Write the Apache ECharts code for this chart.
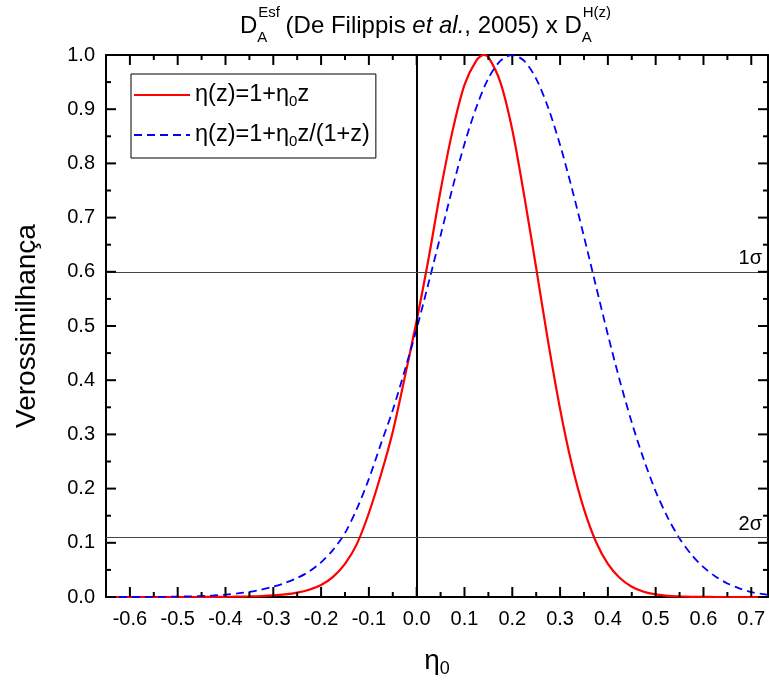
<!DOCTYPE html>
<html><head><meta charset="utf-8">
<script src="https://cdn.jsdelivr.net/npm/echarts@6/dist/echarts.min.js"></script>
<style>html,body{margin:0;padding:0;background:#fff}#c{width:769px;height:686px}</style>
</head><body><div id="c"></div>
<script>
// ---- data ----
const seriesNames = ['η(z)=1+η0z', 'η(z)=1+η0z/(1+z)'];
const etaLinear = [-0.65,-0.625,-0.6,-0.575,-0.55,-0.525,-0.5,-0.475,-0.45,-0.425,-0.4,-0.375,-0.35,-0.325,-0.3,-0.275,-0.25,-0.225,-0.2,-0.175,-0.15,-0.125,-0.1,-0.075,-0.05,-0.025,0,0.025,0.05,0.075,0.1,0.125,0.14,0.15,0.175,0.2,0.225,0.25,0.275,0.3,0.325,0.35,0.375,0.4,0.425,0.45,0.475,0.5,0.525,0.55,0.575,0.6,0.625,0.65,0.675,0.7,0.735];
const likeLinear = [0,0,0,0,0,0,0,0,0.0001,0.0002,0.0003,0.0006,0.001,0.0017,0.0029,0.0049,0.0082,0.0135,0.022,0.037,0.061,0.098,0.155,0.225,0.305,0.405,0.51,0.625,0.75,0.86,0.945,0.99,1.0,0.996,0.95,0.862,0.74,0.607,0.471,0.347,0.243,0.162,0.102,0.061,0.035,0.019,0.0097,0.0047,0.002,0.001,0.0004,0.0002,0,0,0,0,0];
const etaCPL = [-0.65,-0.625,-0.6,-0.575,-0.55,-0.525,-0.5,-0.475,-0.45,-0.425,-0.4,-0.375,-0.35,-0.325,-0.3,-0.275,-0.25,-0.225,-0.2,-0.175,-0.15,-0.125,-0.1,-0.075,-0.05,-0.025,0,0.025,0.05,0.075,0.1,0.125,0.15,0.175,0.2,0.225,0.25,0.275,0.3,0.325,0.35,0.375,0.4,0.425,0.45,0.475,0.5,0.525,0.55,0.575,0.6,0.625,0.65,0.675,0.7,0.735];
const likeCPL = [0,0,0,0.0001,0.0002,0.0004,0.0007,0.0011,0.0018,0.0028,0.0043,0.0065,0.0095,0.0135,0.019,0.026,0.035,0.047,0.064,0.087,0.118,0.163,0.218,0.282,0.345,0.418,0.495,0.58,0.667,0.755,0.836,0.904,0.957,0.989,1.0,0.989,0.956,0.903,0.834,0.753,0.665,0.574,0.484,0.399,0.322,0.254,0.195,0.147,0.108,0.078,0.055,0.038,0.025,0.016,0.009,0.004];
const xMajorTicks = [-0.6,-0.5,-0.4,-0.3,-0.2,-0.1,0,0.1,0.2,0.3,0.4,0.5,0.6,0.7];
const xMinorTicks = [-0.65,-0.55,-0.45,-0.35,-0.25,-0.15,-0.05,0.05,0.15,0.25,0.35,0.45,0.55,0.65];
const yMajorTicks = [0,0.1,0.2,0.3,0.4,0.5,0.6,0.7,0.8,0.9,1.0];
const yMinorTicks = [0.05,0.15,0.25,0.35,0.45,0.55,0.65,0.75,0.85,0.95];
const sigmaLevels = [0.6, 0.111];
const sigmaLabels = ['1σ', '2σ'];
const titleParts = ['D', 'Esf', 'A', ' (De Filippis ', 'et al.', ', 2005) x D', 'H(z)', 'A'];
const yName = 'Verossimilhança';
const X_MIN = -0.65, X_MAX = 0.735, Y_MIN = 0, Y_MAX = 1;

const FONT = '"Liberation Sans", Arial, sans-serif';
const chart = echarts.init(document.getElementById('c'), null, {renderer: 'canvas'});

function pair(xs, ys) { return xs.map((x, i) => [x, ys[i]]); }
function legendFmt(n) {
  const idx = n.indexOf('η0');
  return '{t|' + n.slice(0, idx) + 'η}{s|0}{t|' + n.slice(idx + 2) + '}';
}

// title layout via text measurement
const ctx = document.createElement('canvas').getContext('2d');
function tw(t, size, style) { ctx.font = (style || '') + ' ' + size + 'px ' + FONT; return ctx.measureText(t).width; }
const TS = 24, SS = 15;
const w0 = tw(titleParts[0], TS), w1 = Math.max(tw(titleParts[1], SS), tw(titleParts[2], SS));
const w3 = tw(titleParts[3], TS), w4 = tw(titleParts[4], TS, 'italic'), w5 = tw(titleParts[5], TS);
const w6 = Math.max(tw(titleParts[6], SS), tw(titleParts[7], SS));
const total = w0 + w1 + w3 + w4 + w5 + w6;
let tx = 425 - total / 2;
const TY = 26;
const g = [];
function txt(text, x, y, size, style) {
  return {type: 'text', x: x, y: y, style: {text: text, font: (style || '') + ' ' + size + 'px ' + FONT, fill: '#000', verticalAlign: 'middle', align: 'left'}, silent: true};
}
g.push(txt(titleParts[0], tx, TY, TS)); tx += w0;
g.push(txt(titleParts[1], tx + 1, TY - 13, SS));
g.push(txt(titleParts[2], tx, TY + 12, SS)); tx += w1;
g.push(txt(titleParts[3], tx, TY, TS)); tx += w3;
g.push(txt(titleParts[4], tx, TY, TS, 'italic')); tx += w4;
g.push(txt(titleParts[5], tx, TY, TS)); tx += w5;
g.push(txt(titleParts[6], tx + 1, TY - 13, SS));
g.push(txt(titleParts[7], tx, TY + 12, SS));

const lineBlack = {color: '#000', width: 2};

const option = {
  animation: false,
  backgroundColor: '#fff',
  textStyle: {fontFamily: FONT},
  grid: {left: 106, right: 1, top: 55, bottom: 89, containLabel: false},
  graphic: g,
  legend: {
    data: seriesNames,
    orient: 'vertical',
    left: 131, top: 74,
    itemWidth: 56, itemHeight: 14, itemGap: 14,
    padding: [9, 6, 9, 2],
    borderColor: '#000', borderWidth: 1, backgroundColor: '#fff',
    formatter: legendFmt,
    itemStyle: {color: 'rgba(0,0,0,0)', borderColor: 'rgba(0,0,0,0)', borderWidth: 0, opacity: 0},
    textStyle: {color: '#000', rich: {
      t: {fontSize: 23.5, fontFamily: FONT, color: '#000', lineHeight: 28},
      s: {fontSize: 15, fontFamily: FONT, color: '#000', verticalAlign: 'bottom', lineHeight: 10}
    }}
  },
  xAxis: [
    {type: 'value', min: X_MIN, max: X_MAX, position: 'bottom', splitLine: {show: false},
      axisLine: {show: true, onZero: false, lineStyle: lineBlack},
      axisTick: {show: false},
      axisLabel: {show: true, customValues: xMajorTicks, formatter: v => (+v).toFixed(1), fontSize: 20, color: '#000', margin: 12, fontFamily: FONT},
      name: '{t|η}{s|0}', nameLocation: 'middle', nameGap: 47,
      nameTextStyle: {rich: {t: {fontSize: 28, fontFamily: FONT, color: '#000', lineHeight: 34}, s: {fontSize: 18, fontFamily: FONT, color: '#000', verticalAlign: 'bottom', lineHeight: 12}}}
    },
    {type: 'value', min: X_MIN, max: X_MAX, position: 'top', splitLine: {show: false},
      axisLine: {show: true, onZero: false, lineStyle: lineBlack},
      axisTick: {show: false}, axisLabel: {show: false}}
  ],
  yAxis: [
    {type: 'value', min: Y_MIN, max: Y_MAX, interval: 0.1, position: 'left', splitLine: {show: false},
      axisLine: {show: true, onZero: false, lineStyle: lineBlack},
      axisTick: {show: false},
      axisLabel: {show: true, formatter: v => (+v).toFixed(1), fontSize: 20, color: '#000', margin: 11, fontFamily: FONT},
      name: yName, nameLocation: 'middle', nameGap: 65, nameRotate: 90,
      nameTextStyle: {fontSize: 28, color: '#000', fontFamily: FONT}
    },
    {type: 'value', min: Y_MIN, max: Y_MAX, position: 'right', splitLine: {show: false},
      axisLine: {show: true, onZero: false, lineStyle: lineBlack},
      axisTick: {show: false}, axisLabel: {show: false}}
  ],
  series: [
    {
      name: 'refs', type: 'line', data: [], silent: true, z: 1,
      markLine: {
        silent: true, symbol: ['none', 'none'], animation: false,
        data: [
          {xAxis: 0, lineStyle: {color: '#000', width: 2, type: 'solid'}, label: {show: false}},
          {yAxis: sigmaLevels[0], lineStyle: {color: '#444', width: 1, type: 'solid'},
            label: {show: true, position: 'insideEndTop', formatter: sigmaLabels[0], fontSize: 20, color: '#000', fontFamily: FONT, distance: [6, 3]}},
          {yAxis: sigmaLevels[1], lineStyle: {color: '#444', width: 1, type: 'solid'},
            label: {show: true, position: 'insideEndTop', formatter: sigmaLabels[1], fontSize: 20, color: '#000', fontFamily: FONT, distance: [6, 3]}}
        ]
      }
    },
    {
      name: seriesNames[0], type: 'line', data: pair(etaLinear, likeLinear), smooth: 0.3,
      showSymbol: false, symbol: 'none', z: 3,
      lineStyle: {color: '#ff0000', width: 2.2}, itemStyle: {color: '#ff0000'}
    },
    {
      name: seriesNames[1], type: 'line', data: pair(etaCPL, likeCPL), smooth: 0.3,
      showSymbol: false, symbol: 'none', z: 3,
      lineStyle: {color: '#0000ff', width: 1.8, type: [8, 5]}, itemStyle: {color: '#0000ff'}
    }
  ]
};
chart.setOption(option);

// inward ticks on all four sides, positioned through the chart's own axis scales
const tickEls = [];
const finder = {xAxisIndex: 0, yAxisIndex: 0};
function seg(x1, y1, x2, y2) {
  return {type: 'line', silent: true, z: 50, shape: {x1: x1, y1: y1, x2: x2, y2: y2}, style: {stroke: '#000', lineWidth: 2}};
}
function addX(values, len) {
  values.forEach(v => {
    const pb = chart.convertToPixel(finder, [v, Y_MIN]);
    const pt = chart.convertToPixel(finder, [v, Y_MAX]);
    tickEls.push(seg(pb[0], pb[1], pb[0], pb[1] - len));
    tickEls.push(seg(pt[0], pt[1], pt[0], pt[1] + len));
  });
}
function addY(values, len) {
  values.forEach(v => {
    const pl = chart.convertToPixel(finder, [X_MIN, v]);
    const pr = chart.convertToPixel(finder, [X_MAX, v]);
    tickEls.push(seg(pl[0], pl[1], pl[0] + len, pl[1]));
    tickEls.push(seg(pr[0], pr[1], pr[0] - len, pr[1]));
  });
}
addX(xMajorTicks, 10); addX(xMinorTicks, 5);
addY(yMajorTicks, 10); addY(yMinorTicks, 5);
chart.setOption({graphic: g.concat(tickEls)});
</script></body></html>
